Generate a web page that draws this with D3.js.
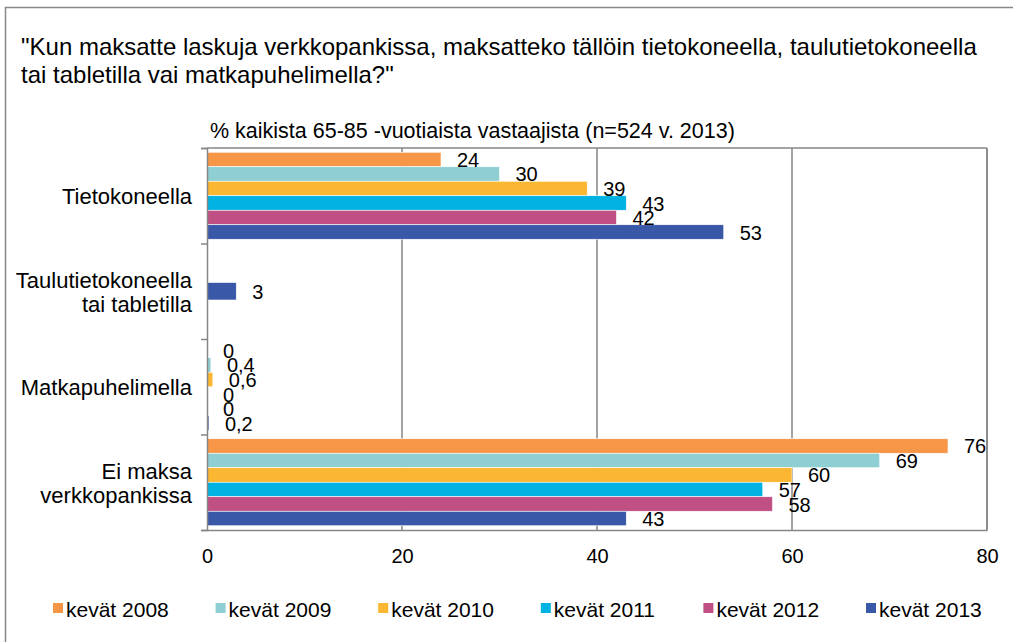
<!DOCTYPE html>
<html>
<head>
<meta charset="utf-8">
<script src="https://cdn.jsdelivr.net/npm/d3@7"></script>
<style>
  body { margin: 0; background: #fff; }
  text { font-family: "Liberation Sans", Arial, sans-serif; fill: #000; }
</style>
</head>
<body>
<svg id="canvas" width="1013" height="642"></svg>
<script>
let categories = [["Tietokoneella"], ["Taulutietokoneella", "tai tabletilla"], ["Matkapuhelimella"], ["Ei maksa", "verkkopankissa"]]
let seriesNames = ["kevät 2008", "kevät 2009", "kevät 2010", "kevät 2011", "kevät 2012", "kevät 2013"]
let seriesColors = ["#f79646", "#8fcfd4", "#fcb732", "#00b2e2", "#c05083", "#3a58a8"]

// values per series, in category order (null = not asked that year)
let v2008 = [24, null, 0, 76]
let v2009 = [30, null, 0.4, 69]
let v2010 = [39, null, 0.6, 60]
let v2011 = [43, null, 0, 57]
let v2012 = [42, null, 0, 58]
let v2013 = [53, 3, 0.2, 43]
let allValues = [v2008, v2009, v2010, v2011, v2012, v2013]

let xTicks = [0, 20, 40, 60, 80]

let canvas = d3.select("#canvas")

let plotLeft = 207, plotRight = 987, plotTop = 148, plotBottom = 530

// outer frame
canvas.append("rect")
    .attr("x", 5.5).attr("y", 7.5)
    .attr("width", 1100).attr("height", 700)
    .attr("fill", "none")
    .attr("stroke", "#888")
    .attr("stroke-width", 1.5)

canvas.append("text").attr("x", 21).attr("y", 54.5).style("font-size", "24px")
    .text("\"Kun maksatte laskuja verkkopankissa, maksatteko tällöin tietokoneella, taulutietokoneella")
canvas.append("text").attr("x", 21).attr("y", 83).style("font-size", "24px")
    .text("tai tabletilla vai matkapuhelimella?\"")
canvas.append("text").attr("x", 210).attr("y", 138).style("font-size", "21.5px")
    .text("% kaikista 65-85 -vuotiaista vastaajista (n=524 v. 2013)")

let x = d3.scaleLinear().domain([0, 80]).range([plotLeft, plotRight])
let catIdx = categories.map((d, i) => i)
let y0 = d3.scaleBand().domain(catIdx).range([plotTop, plotBottom]).paddingInner(0.089).paddingOuter(0.0445)
let y1 = d3.scaleBand().domain(seriesNames).range([0, y0.bandwidth()])

// gridlines
canvas.append("g")
    .selectAll("line")
    .data(xTicks.slice(1))
    .join("line")
    .attr("x1", d => x(d)).attr("x2", d => x(d))
    .attr("y1", plotTop).attr("y2", plotBottom)
    .attr("stroke", "#868686")
    .attr("stroke-width", 1.5)

canvas.append("line")
    .attr("x1", plotLeft).attr("x2", plotRight)
    .attr("y1", plotTop).attr("y2", plotTop)
    .attr("stroke", "#868686").attr("stroke-width", 1.5)

// bars
let barData = []
allValues.forEach((vals, s) => {
    vals.forEach((v, c) => {
        barData.push({ s: s, c: c, v: v })
    })
})
barData = barData.filter(d => d.v !== null)

// a category with only one answered year gets its bar in the middle of the band
let countIn = c => barData.filter(d => d.c === c).length
let barY = d => countIn(d.c) === 1
    ? y0(d.c) + y0.bandwidth() / 2 - barH(d) / 2
    : y0(d.c) + y1(seriesNames[d.s])
let barH = d => countIn(d.c) === 1 ? y1.bandwidth() + 3 : y1.bandwidth()

canvas.append("g")
    .selectAll("rect")
    .data(barData)
    .join("rect")
    .attr("x", plotLeft)
    .attr("y", barY)
    .attr("width", d => x(d.v) - plotLeft)
    .attr("height", barH)
    .attr("fill", d => seriesColors[d.s])
    .attr("stroke", "#fff")
    .attr("stroke-width", 0.6)

canvas.append("g")
    .selectAll("text")
    .data(barData)
    .join("text")
    .attr("x", d => x(d.v) + 16)
    .attr("y", d => barY(d) + barH(d) / 2 + 7.5)
    .style("font-size", "20px")
    .text(d => String(d.v).replace(".", ","))

// y axis
let yAxis = d3.axisLeft(d3.scaleLinear().domain([0, 4]).range([plotTop, plotBottom]))
    .tickValues([0, 1, 2, 3, 4]).tickSize(6).tickFormat("")
let ya = canvas.append("g").attr("transform", `translate(${plotLeft},0)`).call(yAxis)
ya.selectAll("line, path").attr("stroke", "#868686").attr("stroke-width", 1.5)

// x axis
let xAxis = d3.axisBottom(x).tickValues(xTicks).tickSize(0).tickPadding(19)
let xa = canvas.append("g").attr("transform", `translate(0,${plotBottom})`).call(xAxis)
xa.select(".domain").attr("stroke", "#868686").attr("stroke-width", 1.5)
xa.selectAll("text").attr("fill", "#000").style("font-size", "20px").attr("font-family", null).style("font-family", "Liberation Sans, Arial, sans-serif")

// right border
canvas.append("line")
    .attr("x1", plotRight).attr("x2", plotRight)
    .attr("y1", plotTop).attr("y2", plotBottom)
    .attr("stroke", "#868686").attr("stroke-width", 1.5)

// category labels
categories.forEach((lines, i) => {
    let cy = y0(i) + y0.bandwidth() / 2
    lines.forEach((t, j) => {
        canvas.append("text")
            .attr("x", 192)
            .attr("y", cy + 8.5 + (j - (lines.length - 1) / 2) * 23.5)
            .attr("text-anchor", "end")
            .style("font-size", "22px")
            .text(t)
    })
})

// legend
let legend = canvas.append("g").attr("id", "legend")
    .selectAll("g")
    .data(seriesNames)
    .join("g")
    .attr("transform", (d, i) => `translate(${53 + i * 162.6},603)`)
legend.append("rect").attr("width", 10).attr("height", 10).attr("fill", (d, i) => seriesColors[i])
legend.append("text").attr("x", 13).attr("y", 14).style("font-size", "21px").text(d => d)
</script>
</body>
</html>
